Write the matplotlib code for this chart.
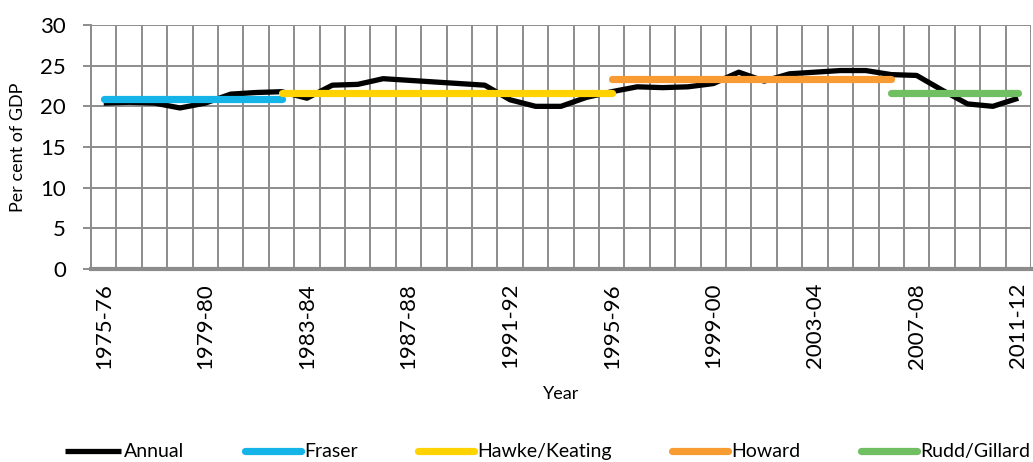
import numpy as np
import matplotlib
matplotlib.use('Agg')
import matplotlib.pyplot as plt

plt.rcParams['font.family'] = ['Lato', 'DejaVu Sans']

# financial years 1975-76 .. 2011-12
years = ['%d-%02d' % (y, (y + 1) % 100) for y in range(1975, 2012)]

annual = [20.4, 20.5, 20.4, 19.8, 20.4, 21.5, 21.7, 21.8, 21.0, 22.6,
          22.7, 23.4, 23.2, 23.0, 22.8, 22.6, 20.8, 20.0, 20.0, 21.1,
          21.8, 22.4, 22.3, 22.4, 22.8, 24.2, 23.1, 24.0, 24.2, 24.4,
          24.4, 23.9, 23.8, 22.0, 20.3, 20.0, 21.0]

# government averages: (name, first year, last year, average)
era_names = ['Fraser', 'Hawke/Keating', 'Howard', 'Rudd/Gillard']
era_start = ['1975-76', '1982-83', '1995-96', '2006-07']
era_end = ['1982-83', '1995-96', '2006-07', '2011-12']
era_avg = [20.9, 21.7, 23.4, 21.6]
era_colors = ['#14B4E8', '#FFD200', '#F79B32', '#71BF63']

grid_col = '#8C8C8C'

fig = plt.figure(figsize=(10.33, 4.62), dpi=100)
ax = fig.add_axes([0.0881, 0.4177, 0.9099, 0.5282])

x = np.arange(len(years))
ax.plot(x, annual, color='black', lw=3.8, solid_capstyle='butt',
        label='Annual', zorder=3)
for name, s, e, v, c in zip(era_names, era_start, era_end, era_avg, era_colors):
    i0, i1 = years.index(s), years.index(e)
    ax.plot(x[i0:i1 + 1], [v] * (i1 - i0 + 1), color=c, lw=5.2,
            solid_capstyle='round', label=name, zorder=4)

ax.set_xlim(-0.5, len(years) - 0.5)
ax.set_ylim(0, 30)
ax.set_yticks(range(0, 31, 5))
ax.set_xticks(x[::4])
ax.set_xticklabels(years[::4], rotation=90)

# category gridlines between points
ax.set_xticks(np.arange(-0.5, len(years), 1), minor=True)
ax.grid(True, which='minor', axis='x', color=grid_col, lw=1.4)
ax.grid(True, which='major', axis='y', color=grid_col, lw=1.4)
ax.set_axisbelow(True)

for sp in ['top', 'right']:
    ax.spines[sp].set_visible(False)
ax.spines['left'].set_color(grid_col)
ax.spines['left'].set_linewidth(1.4)
ax.spines['bottom'].set_color(grid_col)
ax.spines['bottom'].set_linewidth(3)

ax.tick_params(axis='y', length=6, width=1.4, color=grid_col, pad=12,
               labelsize=16)
ax.tick_params(axis='x', which='both', length=0, pad=10, labelsize=16)

ax.set_ylabel('Per cent of GDP', fontsize=13)
ax.yaxis.set_label_coords(-0.069, 0.5)
ax.set_xlabel('Year', fontsize=13, labelpad=12)

fig.legend(loc='center', bbox_to_anchor=(0.53, 0.022), ncol=5, frameon=False,
           fontsize=14, handlelength=2.9, handletextpad=0.15,
           columnspacing=3.1)

fig.savefig('out.png', dpi=100)
